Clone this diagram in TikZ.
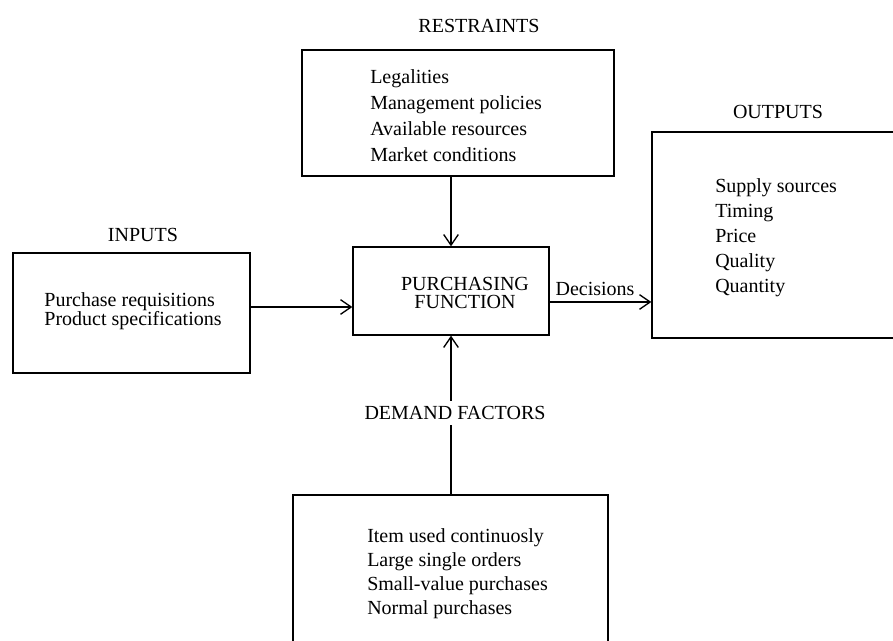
\documentclass[tikz,border=0pt]{standalone}
\usepackage{fontspec}
\setmainfont{Liberation Serif}
\usetikzlibrary{arrows.meta}
\begin{document}
\begin{tikzpicture}[x=0.75pt,y=-0.75pt,
  box/.style={draw, line width=1pt, inner sep=0pt},
  lst/.style={inner sep=0pt, align=left, anchor=west},
  ttl/.style={font=\fontsize{15}{18}\selectfont, inner sep=0pt},
  arr/.style={line width=1pt, -{Straight Barb[length=8pt,width=11pt,line width=1pt]}},
  ln/.style={line width=1pt}]
\clip (0,0) rectangle (893,641);
\fill[white] (0,0) rectangle (893,641);
% boxes
\node[box, minimum width=234pt, minimum height=94.5pt] (restraints) at (458,113) {};
\node[box, minimum width=177.75pt, minimum height=90pt] (inputs) at (131.5,313) {};
\node[box, minimum width=147pt, minimum height=66pt] (purch) at (451,291) {};
\node[box, minimum width=231pt, minimum height=154.5pt] (outputs) at (806,235) {};
\node[box, minimum width=236.25pt, minimum height=153.75pt] (demand) at (450.5,597.5) {};
% titles
\node[ttl] (trestr) at (479,26) {RESTRAINTS};
\node[ttl] (toutp) at (778,112) {OUTPUTS};
\node[ttl] (tinp) at (143,235) {INPUTS};
\node[ttl, inner ysep=4pt] (tdem) at (455,413) {DEMAND FACTORS};
\node[ttl] (tdec) at (595,289) {Decisions};
% lists
\node[lst, font=\fontsize{15}{19.5}\selectfont] (lrestr) at (370,116)
  {Legalities\\Management policies\\Available resources\\Market conditions};
\node[lst, font=\fontsize{15}{18.75}\selectfont] (loutp) at (715,238)
  {Supply sources\\Timing\\Price\\Quality\\Quantity};
\node[inner sep=0pt, align=left, font=\fontsize{15}{14}\selectfont] (linp) at (133,311)
  {Purchase requisitions\\Product specifications};
\node[inner sep=0pt, align=center, font=\fontsize{15}{14}\selectfont] (lpurch) at (465,293)
  {PURCHASING\\FUNCTION};
\node[lst, font=\fontsize{15}{18}\selectfont] (ldem) at (367,574)
  {Item used continuosly\\Large single orders\\Small-value purchases\\Normal purchases};
% connectors
\coordinate (inlev) at (0,307);
\coordinate (declev) at (0,302);
\draw[arr] (restraints.south -| purch.north) -- (purch.north);
\draw[arr] (inputs.east |- inlev) -- (purch.west |- inlev);
\draw[arr] (purch.east |- declev) -- (outputs.west |- declev);
\draw[ln] (demand.north -| purch.south) -- (tdem.south -| purch.south);
\draw[arr] (tdem.north -| purch.south) -- (purch.south);
\end{tikzpicture}
\end{document}
